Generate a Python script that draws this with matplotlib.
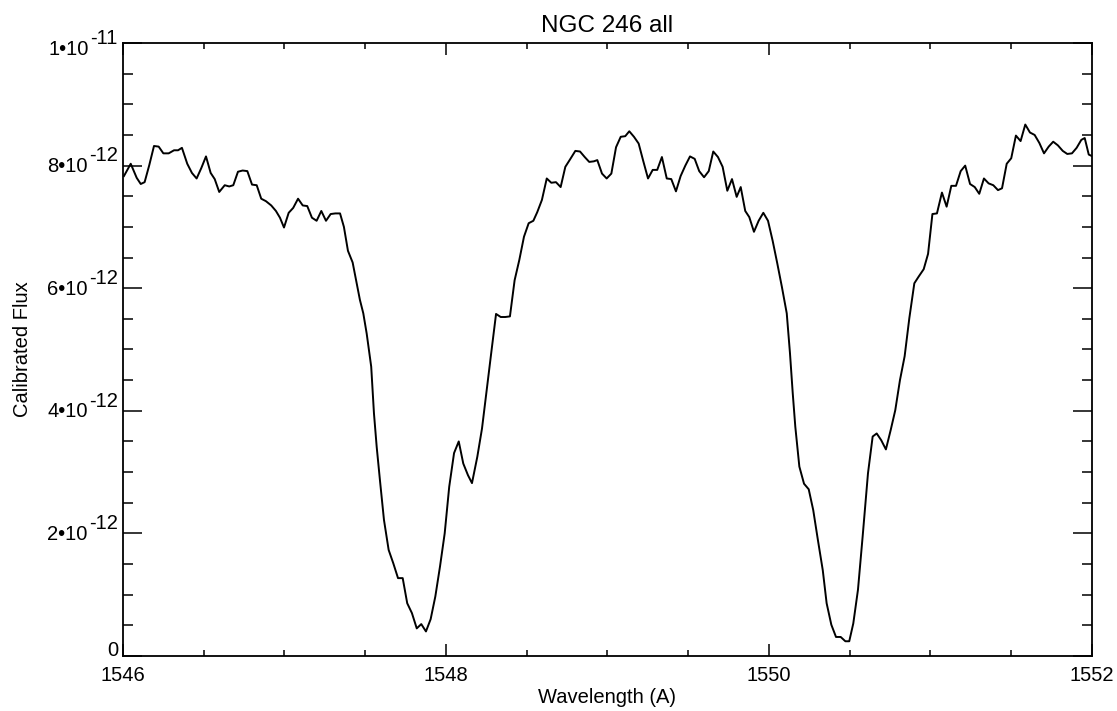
"""
NGC 246 spectrum around the C IV doublet.
"""

import matplotlib

matplotlib.use("Agg")
import matplotlib.pyplot as plt
from matplotlib.ticker import MultipleLocator, FixedLocator, FixedFormatter, NullFormatter

plt.rcParams["font.family"] = ["Liberation Sans", "DejaVu Sans"]

# wavelength (A) and calibrated flux (units of 1e-12)
wavelength = [
    1546.006, 1546.048, 1546.085, 1546.110, 1546.134, 1546.163, 1546.192, 1546.221,
    1546.250, 1546.283, 1546.316, 1546.341, 1546.365, 1546.398, 1546.427, 1546.456,
    1546.485, 1546.514, 1546.543, 1546.568, 1546.596, 1546.630, 1546.658, 1546.683,
    1546.712, 1546.741, 1546.770, 1546.799, 1546.828, 1546.856, 1546.885, 1546.918,
    1546.947, 1546.972, 1546.997, 1547.026, 1547.054, 1547.084, 1547.113, 1547.141,
    1547.170, 1547.199, 1547.228, 1547.257, 1547.286, 1547.315, 1547.344, 1547.368,
    1547.393, 1547.422, 1547.447, 1547.467, 1547.488, 1547.509, 1547.537, 1547.554,
    1547.571, 1547.591, 1547.616, 1547.645, 1547.674, 1547.703, 1547.732, 1547.760,
    1547.789, 1547.819, 1547.847, 1547.876, 1547.905, 1547.934, 1547.963, 1547.992,
    1548.020, 1548.050, 1548.079, 1548.107, 1548.136, 1548.161, 1548.194, 1548.223,
    1548.252, 1548.280, 1548.310, 1548.339, 1548.367, 1548.396, 1548.425, 1548.454,
    1548.483, 1548.512, 1548.541, 1548.565, 1548.594, 1548.624, 1548.652, 1548.681,
    1548.710, 1548.739, 1548.768, 1548.801, 1548.830, 1548.859, 1548.887, 1548.916,
    1548.937, 1548.966, 1548.995, 1549.024, 1549.053, 1549.082, 1549.110, 1549.135,
    1549.164, 1549.193, 1549.222, 1549.251, 1549.280, 1549.308, 1549.337, 1549.367,
    1549.395, 1549.424, 1549.453, 1549.482, 1549.511, 1549.540, 1549.568, 1549.598,
    1549.627, 1549.655, 1549.684, 1549.713, 1549.742, 1549.771, 1549.800, 1549.825,
    1549.853, 1549.878, 1549.907, 1549.936, 1549.965, 1549.994, 1550.023, 1550.051,
    1550.080, 1550.110, 1550.130, 1550.147, 1550.163, 1550.188, 1550.217, 1550.246,
    1550.274, 1550.303, 1550.333, 1550.357, 1550.386, 1550.415, 1550.444, 1550.473,
    1550.497, 1550.522, 1550.551, 1550.580, 1550.613, 1550.642, 1550.667, 1550.695,
    1550.724, 1550.754, 1550.782, 1550.811, 1550.840, 1550.869, 1550.900, 1550.927,
    1550.958, 1550.985, 1551.012, 1551.040, 1551.071, 1551.100, 1551.129, 1551.158,
    1551.187, 1551.215, 1551.245, 1551.274, 1551.302, 1551.331, 1551.360, 1551.389,
    1551.418, 1551.443, 1551.472, 1551.500, 1551.529, 1551.558, 1551.587, 1551.616,
    1551.645, 1551.674, 1551.703, 1551.732, 1551.760, 1551.789, 1551.819, 1551.847,
    1551.876, 1551.905, 1551.934, 1551.955, 1551.980, 1552.004,
]
flux = [
    7.83, 8.03, 7.80, 7.70, 7.73, 8.01, 8.32, 8.31,
    8.20, 8.20, 8.25, 8.25, 8.29, 8.03, 7.88, 7.79,
    7.96, 8.15, 7.88, 7.78, 7.57, 7.68, 7.66, 7.68,
    7.90, 7.92, 7.91, 7.69, 7.68, 7.46, 7.42, 7.35,
    7.26, 7.15, 6.99, 7.23, 7.31, 7.46, 7.35, 7.34,
    7.15, 7.10, 7.26, 7.10, 7.21, 7.22, 7.22, 7.00,
    6.61, 6.42, 6.08, 5.81, 5.59, 5.26, 4.72, 3.96,
    3.41, 2.87, 2.22, 1.73, 1.51, 1.27, 1.27, 0.86,
    0.70, 0.45, 0.52, 0.40, 0.60, 0.97, 1.46, 2.00,
    2.76, 3.31, 3.50, 3.14, 2.95, 2.82, 3.25, 3.71,
    4.34, 4.94, 5.58, 5.53, 5.53, 5.54, 6.13, 6.46,
    6.84, 7.06, 7.10, 7.24, 7.44, 7.79, 7.72, 7.73,
    7.65, 7.98, 8.10, 8.24, 8.23, 8.14, 8.06, 8.07,
    8.09, 7.87, 7.79, 7.87, 8.30, 8.47, 8.48, 8.56,
    8.47, 8.36, 8.07, 7.79, 7.93, 7.93, 8.14, 7.79,
    7.78, 7.58, 7.83, 8.00, 8.15, 8.11, 7.91, 7.81,
    7.91, 8.23, 8.14, 7.98, 7.59, 7.78, 7.49, 7.65,
    7.26, 7.16, 6.92, 7.10, 7.23, 7.10, 6.77, 6.41,
    6.02, 5.59, 4.94, 4.29, 3.74, 3.09, 2.81, 2.72,
    2.38, 1.89, 1.40, 0.86, 0.51, 0.31, 0.31, 0.24,
    0.24, 0.53, 1.08, 1.95, 2.98, 3.58, 3.63, 3.52,
    3.37, 3.69, 4.01, 4.50, 4.89, 5.51, 6.08, 6.19,
    6.31, 6.56, 7.21, 7.22, 7.56, 7.33, 7.67, 7.67,
    7.91, 8.00, 7.70, 7.65, 7.54, 7.79, 7.71, 7.68,
    7.60, 7.63, 8.03, 8.12, 8.49, 8.40, 8.67, 8.54,
    8.50, 8.37, 8.20, 8.31, 8.39, 8.33, 8.24, 8.19,
    8.20, 8.29, 8.42, 8.45, 8.18, 8.15,
]
flux_scale = 1e-12

# IDL-style labels: mantissa•10 with a full-size raised exponent
ytick_values = [0, 2e-12, 4e-12, 6e-12, 8e-12, 1e-11]
ytick_mantissas = ["0", "2•10", "4•10", "6•10", "8•10", "1•10"]
ytick_exponents = ["", "-12", "-12", "-12", "-12", "-11"]
xtick_values = [1546, 1548, 1550, 1552]
xtick_labels = ["1546", "1548", "1550", "1552"]

PX = 72 / 100  # points per pixel at dpi 100
FS = 14.5

fig = plt.figure(figsize=(11.17, 7.11), dpi=100)
ax = fig.add_axes([0.1101, 0.0774, 0.8675, 0.8621])

ax.plot(wavelength, [f * flux_scale for f in flux], color="black", linewidth=1.4)

ax.set_xlim(1546, 1552)
ax.set_ylim(0, 1e-11)

ax.xaxis.set_major_locator(FixedLocator(xtick_values))
ax.xaxis.set_major_formatter(FixedFormatter(xtick_labels))
ax.xaxis.set_minor_locator(MultipleLocator(0.5))
ax.yaxis.set_major_locator(FixedLocator(ytick_values))
ax.yaxis.set_major_formatter(NullFormatter())
ax.yaxis.set_minor_locator(MultipleLocator(0.5e-12))

ax.tick_params(axis="both", which="both", direction="in", top=True, right=True,
               labelsize=FS, width=1.1, color="black")
ax.tick_params(axis="x", which="major", length=8.6, pad=7.5)
ax.tick_params(axis="x", which="minor", length=4.3)
ax.tick_params(axis="y", which="major", length=13.7)
ax.tick_params(axis="y", which="minor", length=7)
for spine in ax.spines.values():
    spine.set_linewidth(1.3)

ytrans = ax.get_yaxis_transform()
for val, mant, expo in zip(ytick_values, ytick_mantissas, ytick_exponents):
    if not expo:
        ax.annotate(mant, xy=(0, val), xycoords=ytrans, xytext=(-5 * PX, 0),
                    textcoords="offset points", ha="right", va="baseline",
                    fontsize=FS, annotation_clip=False)
        continue
    drop = 12 if val == ytick_values[-1] else 6.5
    sup = ax.annotate(expo, xy=(0, val), xycoords=ytrans,
                      xytext=(-5 * PX, (10.7 - drop) * PX),
                      textcoords="offset points", ha="right", va="baseline",
                      fontsize=FS, annotation_clip=False)
    ax.annotate(mant, xy=(0, 0), xycoords=sup, xytext=(-1.5 * PX, -10.7 * PX),
                textcoords="offset points", ha="right", va="bottom",
                fontsize=FS, annotation_clip=False)

ax.set_title("NGC 246 all", fontsize=17.5, pad=8)
ax.set_xlabel("Wavelength (A)", fontsize=FS)
ax.set_ylabel("Calibrated Flux", fontsize=FS)
ax.xaxis.set_label_coords(0.5, -0.052)
ax.yaxis.set_label_coords(-0.094, 0.5)

fig.savefig("out.png", dpi=100, facecolor="white")
plt.close(fig)
